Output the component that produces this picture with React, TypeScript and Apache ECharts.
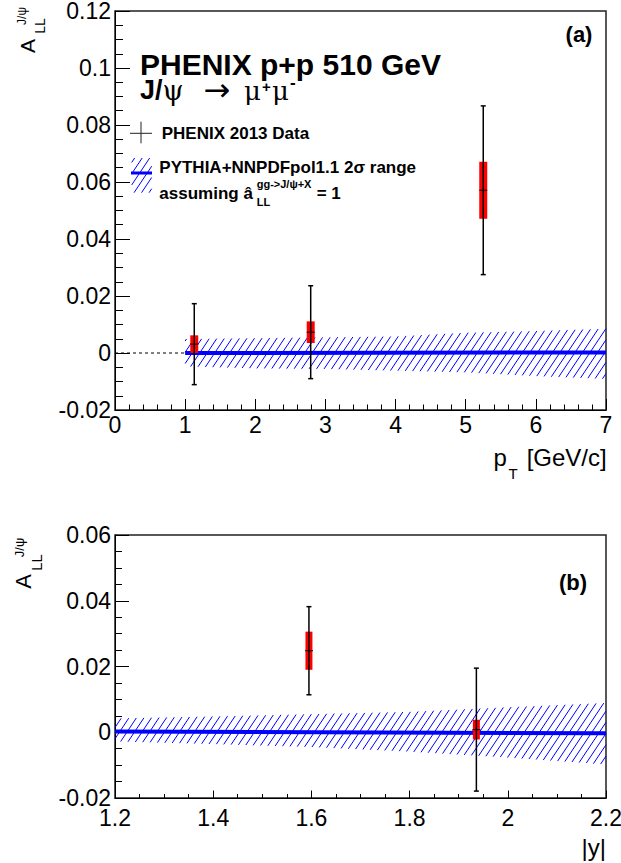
import React, { useEffect, useRef } from "react";
import * as echarts from "echarts";

// ---------- data ----------
// panel (a): A_LL vs pT
const aXTicks = [0, 1, 2, 3, 4, 5, 6, 7];
const aYTicks = [-0.02, 0, 0.02, 0.04, 0.06, 0.08, 0.1, 0.12];
const aPtX = [1.13, 2.79, 5.25];
const aPtY = [0.0031, 0.0073, 0.0571];
const aStat = [0.0142, 0.0163, 0.0296];
const aSys = [0.0031, 0.0038, 0.01];
const aRefX = [0, 1];
const aRefY = [0, 0];
const aBandX = [1, 2, 3, 4, 5, 6, 7];
const aBandHi = [0.0049, 0.0052, 0.0055, 0.0058, 0.0071, 0.0077, 0.0085];
const aBandLo = [-0.0047, -0.0054, -0.0056, -0.0062, -0.0068, -0.0081, -0.0091];
const aCurveX = [1, 7];
const aCurveY = [0, 0.0002];

// panel (b): A_LL vs |y|
const bXTicks = [1.2, 1.4, 1.6, 1.8, 2.0, 2.2];
const bYTicks = [-0.02, 0, 0.02, 0.04, 0.06];
const bPtX = [1.595, 1.936];
const bPtY = [0.0248, 0.0008];
const bStat = [0.0134, 0.0187];
const bSys = [0.0058, 0.003];
const bBandX = [1.2, 1.4, 1.6, 1.8, 2.0, 2.2];
const bBandHi = [0.0042, 0.0048, 0.0055, 0.0062, 0.0076, 0.0089];
const bBandLo = [-0.0028, -0.0036, -0.0045, -0.0059, -0.0077, -0.0098];
const bCurveX = [1.2, 2.2];
const bCurveY = [0.0002, -0.0003];

// ---------- helpers ----------
const SANS = '"Liberation Sans", Arial, Helvetica, sans-serif';
const SERIF = '"DejaVu Serif", "Liberation Serif", serif';
const DSANS = '"DejaVu Sans", sans-serif';
const BLUE = "#0000ff";
const HATCH_K = 1.5;
const HATCH_S = 7.5;
const TICK_FS = 23;

const fmt = (v: number) => String(parseFloat(v.toFixed(4)));
const step = (t: number[]) => Math.round((t[1] - t[0]) * 1e6) / 1e6;

function interp(xs: number[], vs: number[], x: number): number {
  const n = xs.length;
  if (x <= xs[0]) return vs[0];
  if (x >= xs[n - 1]) return vs[n - 1];
  for (let i = 0; i < n - 1; i++) {
    if (x <= xs[i + 1]) {
      const t = (x - xs[i]) / (xs[i + 1] - xs[i]);
      return vs[i] + t * (vs[i + 1] - vs[i]);
    }
  }
  return vs[n - 1];
}
function solve(f: (x: number) => number, u: number, lo: number, hi: number) {
  for (let i = 0; i < 50; i++) {
    const m = (lo + hi) / 2;
    if (f(m) < u) lo = m;
    else hi = m;
  }
  return (lo + hi) / 2;
}
function hatch(xs: number[], tops: number[], bots: number[], k: number, s: number) {
  const x0 = xs[0];
  const x1 = xs[xs.length - 1];
  const fTop = (x: number) => x + interp(xs, tops, x) / k;
  const fBot = (x: number) => x + interp(xs, bots, x) / k;
  const uMin = fTop(x0);
  const uMax = fBot(x1);
  const segs: number[][] = [];
  for (let u = Math.ceil(uMin / s) * s; u <= uMax; u += s) {
    const xa = Math.max(x0, solve(fBot, u, x0 - 3000, x1 + 3000));
    const xb = Math.min(x1, solve(fTop, u, x0 - 3000, x1 + 3000));
    if (xb - xa > 0.2) segs.push([xa, k * (u - xa), xb, k * (u - xb)]);
  }
  return segs;
}

function axisOpt(gridIndex: number, ticks: number[], major: number, minor: number, minorSplit: number, margin: number, fs: number) {
  return {
    type: "value",
    gridIndex,
    min: ticks[0],
    max: ticks[ticks.length - 1],
    interval: step(ticks),
    axisLine: { show: true, onZero: false, lineStyle: { color: "#000", width: 1 } },
    axisTick: { show: true, inside: true, length: major, lineStyle: { color: "#000", width: 1 } },
    minorTick: { show: true, splitNumber: minorSplit, length: minor, lineStyle: { color: "#000", width: 1 } },
    splitLine: { show: false },
    minorSplitLine: { show: false },
    axisLabel: {
      show: true,
      color: "#000",
      fontFamily: SANS,
      fontSize: fs,
      margin,
      formatter: fmt,
      showMinLabel: true,
      showMaxLabel: true,
      hideOverlap: false,
    },
  };
}

function pointsSeries(axis: number, xs: number[], ys: number[], st: number[], sy: number[], boxW: number) {
  return {
    type: "custom",
    xAxisIndex: axis,
    yAxisIndex: axis,
    z: 6,
    silent: true,
    data: xs.map((x, i) => [x, ys[i], st[i], sy[i]]),
    encode: { x: 0, y: 1 },
    renderItem: (_p: any, api: any) => {
      const x = api.value(0);
      const y = api.value(1);
      const e = api.value(2);
      const s = api.value(3);
      const c = api.coord([x, y]);
      const sHi = api.coord([x, y + e]);
      const sLo = api.coord([x, y - e]);
      const bHi = api.coord([x, y + s]);
      const bLo = api.coord([x, y - s]);
      const cx = c[0];
      return {
        type: "group",
        children: [
          { type: "rect", shape: { x: cx - boxW / 2, y: bHi[1], width: boxW, height: bLo[1] - bHi[1] }, style: { fill: "#ff0000" } },
          { type: "line", shape: { x1: cx, y1: sHi[1], x2: cx, y2: sLo[1] }, style: { stroke: "#000", lineWidth: 1.5 } },
          { type: "line", shape: { x1: cx - 2.5, y1: sHi[1], x2: cx + 2.5, y2: sHi[1] }, style: { stroke: "#000", lineWidth: 1.5 } },
          { type: "line", shape: { x1: cx - 2.5, y1: sLo[1], x2: cx + 2.5, y2: sLo[1] }, style: { stroke: "#000", lineWidth: 1.5 } },
          { type: "line", shape: { x1: cx - 4, y1: c[1], x2: cx + 4, y2: c[1] }, style: { stroke: "#000", lineWidth: 1 } },
        ],
      };
    },
  };
}

function bandSeries(axis: number, xs: number[], hi: number[], lo: number[]) {
  return {
    type: "custom",
    xAxisIndex: axis,
    yAxisIndex: axis,
    z: 2,
    silent: true,
    data: xs.map((x, i) => [x, hi[i], lo[i]]),
    encode: { x: 0, y: [1, 2] },
    renderItem: (p: any, api: any) => {
      if (p.dataIndex !== 0) return null;
      const px: number[] = [];
      const pt: number[] = [];
      const pb: number[] = [];
      for (let i = 0; i < xs.length; i++) {
        const a = api.coord([xs[i], hi[i]]);
        const b = api.coord([xs[i], lo[i]]);
        px.push(a[0]);
        pt.push(a[1]);
        pb.push(b[1]);
      }
      const segs = hatch(px, pt, pb, HATCH_K, HATCH_S);
      return {
        type: "group",
        children: segs.map((g) => ({
          type: "line",
          shape: { x1: g[0], y1: g[1], x2: g[2], y2: g[3] },
          style: { stroke: BLUE, lineWidth: 1 },
        })),
      };
    },
  };
}

function lineSeries(axis: number, xs: number[], ys: number[], color: string, width: number, type: any, z: number) {
  return {
    type: "line",
    xAxisIndex: axis,
    yAxisIndex: axis,
    z,
    silent: true,
    symbol: "none",
    data: xs.map((x, i) => [x, ys[i]]),
    lineStyle: { color, width, type },
  };
}

function txt(text: string, x: number, y: number, fs: number, opts: any = {}) {
  return {
    type: "text",
    x,
    y,
    rotation: opts.rotation || 0,
    silent: true,
    style: {
      text,
      fontSize: fs,
      fontFamily: opts.family || SANS,
      fontWeight: opts.bold ? "bold" : "normal",
      fill: "#000",
      align: opts.align || "left",
      verticalAlign: "middle",
      lineHeight: opts.lh || fs,
      rich: opts.rich,
    },
  };
}

export default function App() {
  const ref = useRef<HTMLDivElement>(null);
  useEffect(() => {
    if (!ref.current) return;
    const chart = echarts.init(ref.current, null, { renderer: "svg", width: 621, height: 863 });

    const legendHatch = hatch([131.7, 151.7], [158, 158], [192.7, 192.7], HATCH_K, HATCH_S);
    const R = Math.PI / 2;

    const graphics: any[] = [
      // panel (a) header texts
      txt("PHENIX p+p 510 GeV", 140, 64, 30, { bold: true, lh: 24 }),
      txt("{a|J/}{b|ψ}", 140, 90, 26, {
        lh: 22,
        rich: {
          a: { fontSize: 27, fontWeight: "bold", fontFamily: SANS, lineHeight: 22 },
          b: { fontSize: 27, fontFamily: SERIF, lineHeight: 22 },
        },
      }),
      txt("→", 217, 90, 32, { family: DSANS, align: "center", lh: 20 }),
      txt("μ", 244, 91, 26, { family: SERIF, lh: 20 }),
      txt("+", 262, 86, 15, { family: SANS, bold: true, lh: 12 }),
      txt("μ", 272, 91, 26, { family: SERIF, lh: 20 }),
      txt("-", 290, 82, 17, { family: SANS, bold: true, lh: 10 }),
      txt("(a)", 579, 34, 22, { bold: true, align: "center" }),
      // legend
      { type: "line", silent: true, shape: { x1: 130, y1: 133.3, x2: 152, y2: 133.3 }, style: { stroke: "#222", lineWidth: 1 } },
      { type: "line", silent: true, shape: { x1: 141, y1: 121.7, x2: 141, y2: 143.3 }, style: { stroke: "#222", lineWidth: 1 } },
      txt("PHENIX 2013 Data", 161.7, 133.3, 17, { bold: true }),
      ...legendHatch.map((g) => ({
        type: "line",
        silent: true,
        shape: { x1: g[0], y1: g[1], x2: g[2], y2: g[3] },
        style: { stroke: BLUE, lineWidth: 1 },
      })),
      { type: "rect", silent: true, shape: { x: 131, y: 171.5, width: 21, height: 3 }, style: { fill: BLUE } },
      txt("PYTHIA+NNPDFpol1.1 2σ range", 159.3, 167.4, 17, { bold: true }),
      txt("assuming â", 159.3, 193, 17, { bold: true }),
      txt("gg->J/ψ+X", 256.7, 184, 11, { bold: true }),
      txt("LL", 256.7, 201.5, 11, { bold: true }),
      txt("= 1", 316.7, 193, 17, { bold: true }),
      // y title (a)
      txt("A", 27.5, 46, 21, { rotation: R, align: "center" }),
      txt("LL", 39.5, 26, 14, { rotation: R, align: "center" }),
      txt("J/ψ", 21.5, 16, 12, { rotation: R, align: "center" }),
      // x title (a)
      txt("p", 493.5, 457, 24),
      txt("T", 508.5, 473, 15),
      txt("[GeV/c]", 606.7, 457, 24, { align: "right" }),
      // panel (b)
      txt("(b)", 573, 582.5, 22, { bold: true, align: "center" }),
      txt("A", 23, 581.5, 22, { rotation: R, align: "center" }),
      txt("LL", 36, 562.5, 15, { rotation: R, align: "center" }),
      txt("J/ψ", 19.5, 547.5, 13, { rotation: R, align: "center" }),
      txt("|y|", 606, 847, 24, { align: "right" }),
    ];

    const option: any = {
      animation: false,
      backgroundColor: "#fff",
      tooltip: { show: false },
      grid: [
        { left: 115, top: 11, width: 491, height: 399, show: true, borderColor: "#222", borderWidth: 1.5, backgroundColor: "transparent", containLabel: false, outerBoundsMode: "none" },
        { left: 115, top: 535, width: 491, height: 263, show: true, borderColor: "#222", borderWidth: 1.5, backgroundColor: "transparent", containLabel: false, outerBoundsMode: "none" },
      ],
      xAxis: [
        axisOpt(0, aXTicks, 11, 5.5, 5, 3, TICK_FS),
        axisOpt(1, bXTicks, 7.5, 4, 4, 8, TICK_FS),
      ],
      yAxis: [
        axisOpt(0, aYTicks, 15, 8, 4, 4, TICK_FS),
        axisOpt(1, bYTicks, 14, 7, 4, 4, TICK_FS),
      ],
      series: [
        lineSeries(0, aRefX, aRefY, "#000", 1, [3, 3], 1),
        bandSeries(0, aBandX, aBandHi, aBandLo),
        lineSeries(0, aCurveX, aCurveY, BLUE, 4, "solid", 3),
        pointsSeries(0, aPtX, aPtY, aStat, aSys, 8),
        bandSeries(1, bBandX, bBandHi, bBandLo),
        lineSeries(1, bCurveX, bCurveY, BLUE, 4, "solid", 3),
        pointsSeries(1, bPtX, bPtY, bStat, bSys, 7),
      ],
      graphic: graphics,
    };
    chart.setOption(option);
    return () => chart.dispose();
  }, []);

  return (
    <div
      ref={ref}
      style={{ position: "absolute", left: 0, top: 0, width: 621, height: 863, background: "#fff" }}
    />
  );
}
